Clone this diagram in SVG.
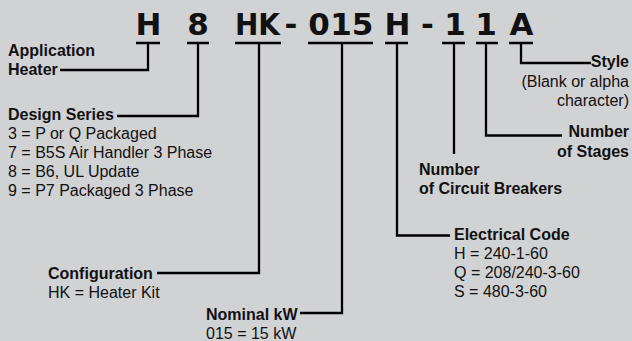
<svg xmlns="http://www.w3.org/2000/svg" width="632" height="341" viewBox="0 0 632 341">
<style>
.code{font-family:"DejaVu Sans",sans-serif;font-weight:bold;font-size:31px;fill:#111;text-anchor:middle}
.b{font-family:"Liberation Sans",Arial,sans-serif;font-weight:bold;font-size:16px;fill:#111}
.r{font-family:"Liberation Sans",Arial,sans-serif;font-size:16px;fill:#111}
.e{text-anchor:end}
.ln{fill:none;stroke:#000;stroke-width:2.3;stroke-linejoin:miter;stroke-linecap:butt}
</style>
<rect x="0" y="0" width="632" height="341" fill="#d1d2d4"/>
<g id="code">
<text class="code" x="148.5" y="35">H</text>
<text class="code" x="198" y="35">8</text>
<text class="code" x="257.5" y="35" textLength="45" lengthAdjust="spacingAndGlyphs">HK</text>
<text class="code" x="291" y="35">-</text>
<text class="code" x="319" y="35">0</text>
<text class="code" x="341" y="35">1</text>
<text class="code" x="362.5" y="35">5</text>
<text class="code" x="397.5" y="35">H</text>
<text class="code" x="427.5" y="35">-</text>
<text class="code" x="455" y="35">1</text>
<text class="code" x="486" y="35">1</text>
<text class="code" x="521.5" y="35">A</text>
</g>
<g id="connectors">
<path class="ln" d="M136 43H160M148 43V70H60"/>
<path class="ln" d="M187 43H209M198 43V116H117"/>
<path class="ln" d="M235 43H281M259 43V273H157"/>
<path class="ln" d="M308 43H373M342 43V313H300"/>
<path class="ln" d="M385 43H408M397 43V235.5H450"/>
<path class="ln" d="M442 43H465M454 43V154"/>
<path class="ln" d="M476 43H498M486 43V135.5H562"/>
<path class="ln" d="M509 43H533M521 43V63H591"/>
</g>
<g id="application">
<text class="b" x="8" y="56">Application</text>
<text class="b" x="8" y="75">Heater</text>
</g>
<g id="design-series">
<text class="b" x="8" y="120">Design Series</text>
<text class="r" x="8" y="139">3 = P or Q Packaged</text>
<text class="r" x="8" y="158">7 = B5S Air Handler 3 Phase</text>
<text class="r" x="8" y="177">8 = B6, UL Update</text>
<text class="r" x="8" y="196">9 = P7 Packaged 3 Phase</text>
</g>
<g id="configuration">
<text class="b" x="48" y="279">Configuration</text>
<text class="r" x="48" y="298">HK = Heater Kit</text>
</g>
<g id="nominal-kw">
<text class="b" x="206" y="320">Nominal kW</text>
<text class="r" x="206" y="339">015 = 15 kW</text>
</g>
<g id="electrical-code">
<text class="b" x="454" y="240">Electrical Code</text>
<text class="r" x="454" y="259">H = 240-1-60</text>
<text class="r" x="454" y="278">Q = 208/240-3-60</text>
<text class="r" x="454" y="297">S = 480-3-60</text>
</g>
<g id="circuit-breakers">
<text class="b" x="419" y="175">Number</text>
<text class="b" x="419" y="194">of Circuit Breakers</text>
</g>
<g id="stages">
<text class="b e" x="629" y="137">Number</text>
<text class="b e" x="629" y="157">of Stages</text>
</g>
<g id="style">
<text class="b e" x="629" y="67">Style</text>
<text class="r e" x="629" y="86.5">(Blank or alpha</text>
<text class="r e" x="629" y="106">character)</text>
</g>
</svg>
